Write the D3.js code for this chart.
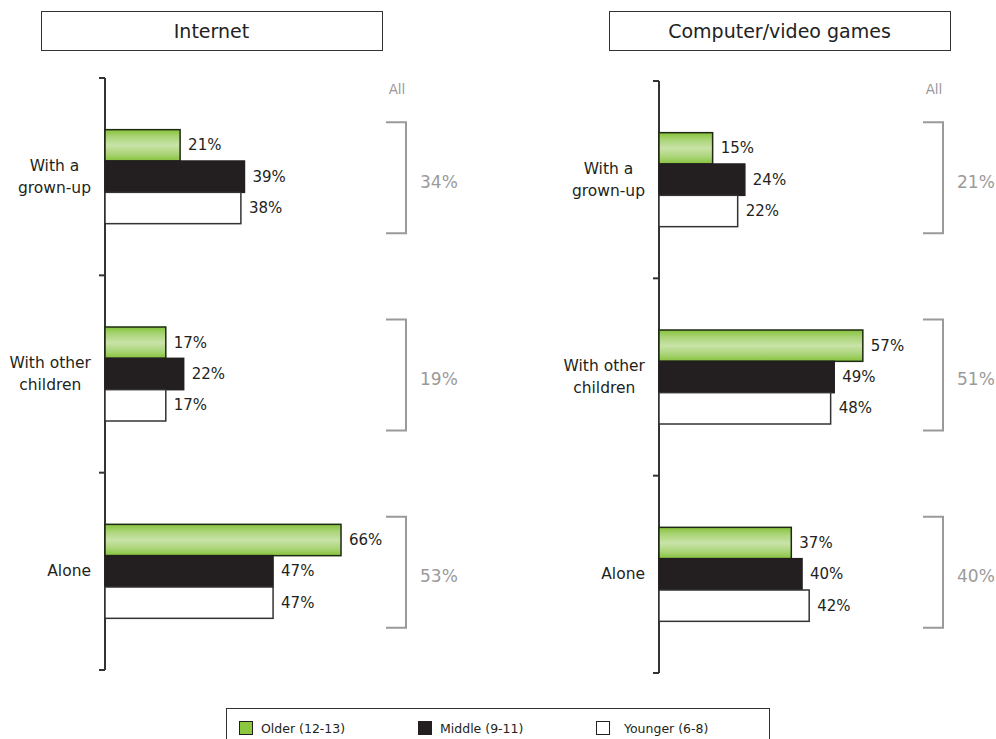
<!DOCTYPE html>
<html>
<head>
<meta charset="utf-8">
<script src="https://cdn.jsdelivr.net/npm/d3@7"></script>
<style>
  html, body { margin: 0; padding: 0; background: #fff; }
  svg { display: block; font-family: "DejaVu Sans", Verdana, sans-serif; }
</style>
</head>
<body>
<svg id="chart" width="996" height="739"></svg>
<script>
// ---- data ----
const categories = ["With a\ngrown-up", "With other\nchildren", "Alone"];
const series = ["Older (12-13)", "Middle (9-11)", "Younger (6-8)"];
const panelTitles = ["Internet", "Computer/video games"];

const internetOlder   = [21, 17, 66];
const internetMiddle  = [39, 22, 47];
const internetYounger = [38, 17, 47];
const internetAll     = [34, 19, 53];

const gamesOlder   = [15, 57, 37];
const gamesMiddle  = [24, 49, 40];
const gamesYounger = [22, 48, 42];
const gamesAll     = [21, 51, 40];

const panels = [
  { title: panelTitles[0], values: [internetOlder, internetMiddle, internetYounger], all: internetAll,
    axisX: 105, top: 78, bottom: 670, boxX: 41, boxW: 341, bracketX: 406, allX: 397, allLabelX: 420 },
  { title: panelTitles[1], values: [gamesOlder, gamesMiddle, gamesYounger], all: gamesAll,
    axisX: 659, top: 81, bottom: 673, boxX: 609, boxW: 341, bracketX: 943, allX: 934, allLabelX: 957 }
];

const svg = d3.select("#chart");
const defs = svg.append("defs");
const grad = defs.append("linearGradient").attr("id", "greenGrad")
  .attr("x1", 0).attr("y1", 0).attr("x2", 0).attr("y2", 1);
grad.append("stop").attr("offset", "0%").attr("stop-color", "#86c23a");
grad.append("stop").attr("offset", "22%").attr("stop-color", "#a9d476");
grad.append("stop").attr("offset", "50%").attr("stop-color", "#c9e3a8");
grad.append("stop").attr("offset", "78%").attr("stop-color", "#a9d476");
grad.append("stop").attr("offset", "100%").attr("stop-color", "#86c23a");

const fills = ["url(#greenGrad)", "#231f20", "#ffffff"];
const strokes = ["#1e2a12", "#231f20", "#333333"];

// shared vertical scale for the "All" brackets (same height in both panels)
const bracketY = d3.scaleBand().domain(categories).range([78, 670]).padding(0);

panels.forEach(p => {
  const g = svg.append("g");

  // title box
  g.append("rect").attr("x", p.boxX + 0.5).attr("y", 11.5).attr("width", p.boxW).attr("height", 39)
    .attr("fill", "#fff").attr("stroke", "#333").attr("stroke-width", 1);
  g.append("text").attr("x", p.boxX + p.boxW / 2).attr("y", 31)
    .attr("text-anchor", "middle").attr("dominant-baseline", "central")
    .attr("font-size", 19).attr("fill", "#222").text(p.title);

  const x = d3.scaleLinear().domain([0, 100]).range([p.axisX, p.axisX + 357.6]);
  const y = d3.scaleBand().domain(categories).range([p.top, p.bottom]).padding(0);
  const inner = d3.scaleBand().domain(series)
    .range([y.bandwidth() / 2 - 47, y.bandwidth() / 2 + 47]).padding(0);

  // axis
  g.append("line").attr("x1", p.axisX).attr("x2", p.axisX).attr("y1", p.top).attr("y2", p.bottom)
    .attr("stroke", "#333").attr("stroke-width", 2);
  const tickYs = categories.map(c => y(c)).concat([p.bottom]);
  g.selectAll(".tick").data(tickYs).enter().append("line")
    .attr("x1", p.axisX - 6).attr("x2", p.axisX).attr("y1", d => d).attr("y2", d => d)
    .attr("stroke", "#333").attr("stroke-width", 2);

  // bars
  categories.forEach((c, ci) => {
    series.forEach((s, si) => {
      const v = p.values[si][ci];
      const by = y(c) + inner(s);
      g.append("rect")
        .attr("x", x(0)).attr("y", by)
        .attr("width", x(v) - x(0)).attr("height", inner.bandwidth())
        .attr("fill", fills[si]).attr("stroke", strokes[si]).attr("stroke-width", 1.5);
      g.append("text")
        .attr("x", x(v) + 8).attr("y", by + inner.bandwidth() / 2)
        .attr("dominant-baseline", "central").attr("font-size", 15).attr("fill", "#231f20")
        .text(v + "%");
    });

    // category label
    const lines = c.split("\n");
    const lh = 22;
    const t = g.append("text").attr("font-size", 15.5).attr("fill", "#231f20")
      .attr("text-anchor", "middle");
    const tsp = lines.map((ln, li) => t.append("tspan")
      .attr("y", y(c) + y.bandwidth() / 2 + (li - (lines.length - 1) / 2) * lh)
      .attr("dominant-baseline", "central").text(ln));
    const maxW = d3.max(tsp, ts => ts.node().getComputedTextLength());
    const cx = p.axisX - 14 - maxW / 2;
    tsp.forEach(ts => ts.attr("x", cx));

    // bracket for "All"
    const mid = bracketY(c) + bracketY.bandwidth() / 2 + 1;
    const hh = 55.5;
    g.append("path")
      .attr("d", `M${p.bracketX - 20},${mid - hh} H${p.bracketX} V${mid + hh} H${p.bracketX - 20}`)
      .attr("fill", "none").attr("stroke", "#9a9a9a").attr("stroke-width", 2);
    g.append("text").attr("x", p.allLabelX).attr("y", mid + 4)
      .attr("dominant-baseline", "central").attr("font-size", 17).attr("fill", "#9a9a9a")
      .text(p.all[ci] + "%");
  });

  g.append("text").attr("x", p.allX).attr("y", 89).attr("text-anchor", "middle")
    .attr("dominant-baseline", "central").attr("font-size", 13.5).attr("fill", "#9a9a9a").text("All");
});

// legend
const lg = svg.append("g");
lg.append("rect").attr("x", 226.5).attr("y", 708.5).attr("width", 543).attr("height", 40)
  .attr("fill", "#fff").attr("stroke", "#333").attr("stroke-width", 1);
const legendX = [239, 418, 596];
const legendFill = ["#8dc63f", "#231f20", "#ffffff"];
const legendTextX = [261, 440, 624];
series.forEach((s, i) => {
  lg.append("rect").attr("x", legendX[i] + 0.5).attr("y", 721.5).attr("width", 13).attr("height", 13)
    .attr("fill", legendFill[i]).attr("stroke", "#231f20").attr("stroke-width", 1);
  lg.append("text").attr("x", legendTextX[i]).attr("y", 728)
    .attr("dominant-baseline", "central").attr("font-size", 12.5).attr("fill", "#231f20").text(s);
});
</script>
</body>
</html>
